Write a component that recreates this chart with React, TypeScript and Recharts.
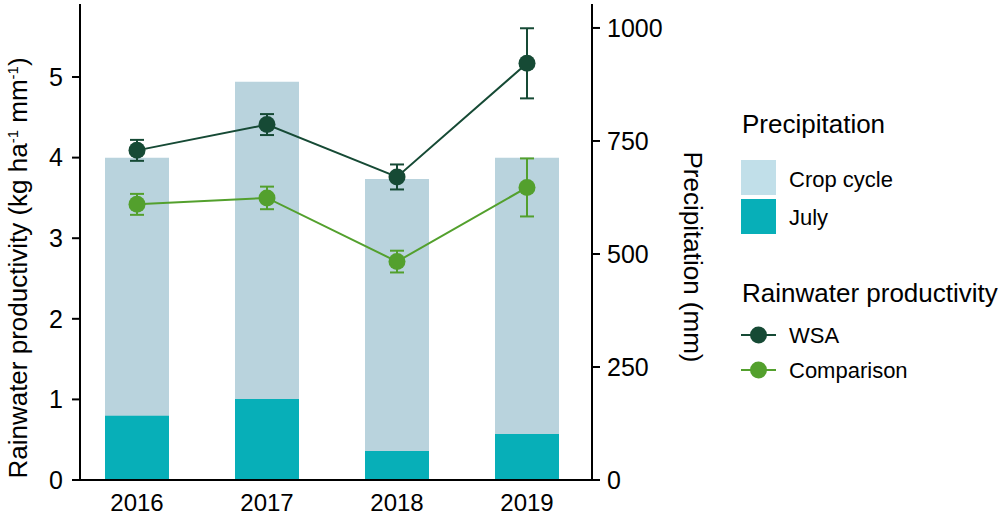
import { ComposedChart, Bar, Line, XAxis, YAxis, ErrorBar } from "recharts";

const years = ["2016", "2017", "2018", "2019"];
// precipitation (mm), right axis
const cropCycle = [713, 881, 666, 713];
const july = [142, 179, 64, 102];
// rainwater productivity (kg ha-1 mm-1), left axis
const wsa = [4.09, 4.41, 3.76, 5.17];
const wsaErr = [0.13, 0.13, 0.155, 0.435];
const comparison = [3.42, 3.5, 2.71, 3.63];
const comparisonErr = [0.13, 0.14, 0.135, 0.36];

const leftTicks = [0, 1, 2, 3, 4, 5];
const rightTicks = [0, 250, 500, 750, 1000];

const CROP = "#b9d3dd";
const CROP_KEY = "#c1dfe9";
const JULY = "#07afb8";
const WSA = "#164a35";
const COMP = "#53a02d";

const data = years.map((year, i) => ({
    year,
    cropCycle: cropCycle[i],
    july: july[i],
    wsa: wsa[i],
    wsaErr: wsaErr[i],
    comparison: comparison[i],
    comparisonErr: comparisonErr[i],
}));

function LeftLabel(props: any) {
    const vb = props.viewBox || { x: 0, y: 0, width: 0, height: 0 };
    const x = vb.x + 27;
    const y = vb.y + vb.height / 2 + 26;
    return (
        <text x={x} y={y} transform={`rotate(-90 ${x} ${y})`} textAnchor="middle" fontSize={26} fill="#000">
            <tspan>Rainwater productivity (kg ha</tspan>
            <tspan dy={-9} fontSize={15}>-1</tspan>
            <tspan dy={9}> mm</tspan>
            <tspan dy={-9} fontSize={15}>-1</tspan>
            <tspan dy={9}>)</tspan>
        </text>
    );
}

function RightLabel(props: any) {
    const vb = props.viewBox || { x: 0, y: 0, width: 0, height: 0 };
    const x = vb.x + 92;
    const y = vb.y + vb.height / 2 + 15;
    return (
        <text x={x} y={y} transform={`rotate(90 ${x} ${y})`} textAnchor="middle" fontSize={26} fill="#000">
            Precipitation (mm)
        </text>
    );
}

function ChartLegend() {
    return (
        <svg width={1000} height={517} style={{ position: "absolute", left: 0, top: 0, pointerEvents: "none" }}>
            <text x={742} y={133} fontSize={26} fill="#000">Precipitation</text>
            <rect x={741} y={160} width={35} height={35} fill={CROP_KEY} />
            <text x={789} y={187} fontSize={22} fill="#000">Crop cycle</text>
            <rect x={741} y={199} width={35} height={35} fill={JULY} />
            <text x={789} y={225} fontSize={22} fill="#000">July</text>

            <text x={742} y={302} fontSize={26} fill="#000">Rainwater productivity</text>
            <line x1={741} x2={776} y1={335} y2={335} stroke={WSA} strokeWidth={2} />
            <circle cx={758.5} cy={335} r={8.5} fill={WSA} />
            <text x={789} y={343} fontSize={22} fill="#000">WSA</text>
            <line x1={741} x2={776} y1={370} y2={370} stroke={COMP} strokeWidth={2} />
            <circle cx={758.5} cy={370} r={8.5} fill={COMP} />
            <text x={789} y={378} fontSize={22} fill="#000">Comparison</text>
        </svg>
    );
}

export default function App() {
    const axisLine = { stroke: "#000", strokeWidth: 2 };
    const tick = { fill: "#000", fontSize: 25 };
    return (
        <div
            style={{
                position: "absolute",
                left: 0,
                top: 0,
                width: 1000,
                height: 517,
                background: "#fff",
                fontFamily: "'Liberation Sans', Arial, sans-serif",
            }}
        >
            <ComposedChart
                width={1000}
                height={517}
                data={data}
                margin={{ top: 4, right: 0, bottom: 0, left: 0 }}
                barSize={64}
                barGap={-64}
            >
                <XAxis
                    dataKey="year"
                    height={37}
                    padding={{ left: -8, right: 0 }}
                    tickLine={false}
                    tickSize={0}
                    tickMargin={14}
                    axisLine={axisLine}
                    tick={{ fill: "#000", fontSize: 24 }}
                />
                <YAxis
                    yAxisId="left"
                    width={80}
                    domain={[0, 5.906]}
                    ticks={leftTicks}
                    interval={0}
                    axisLine={axisLine}
                    tickLine={{ stroke: "#000", strokeWidth: 2 }}
                    tickSize={8}
                    tickMargin={9}
                    tick={tick}
                    label={<LeftLabel />}
                />
                <YAxis
                    yAxisId="right"
                    orientation="right"
                    width={408}
                    domain={[0, 1053]}
                    ticks={rightTicks}
                    interval={0}
                    axisLine={axisLine}
                    tickLine={{ stroke: "#000", strokeWidth: 2 }}
                    tickSize={8}
                    tickMargin={7}
                    tick={tick}
                    label={<RightLabel />}
                />
                <Bar yAxisId="right" dataKey="cropCycle" name="Crop cycle" fill={CROP} isAnimationActive={false} />
                <Bar yAxisId="right" dataKey="july" name="July" fill={JULY} isAnimationActive={false} />
                <Line
                    yAxisId="left"
                    dataKey="wsa"
                    name="WSA"
                    stroke={WSA}
                    strokeWidth={2}
                    dot={{ r: 8.5, fill: WSA, stroke: "none" }}
                    activeDot={false}
                    isAnimationActive={false}
                >
                    <ErrorBar dataKey="wsaErr" direction="y" width={7} stroke={WSA} strokeWidth={2} isAnimationActive={false} />
                </Line>
                <Line
                    yAxisId="left"
                    dataKey="comparison"
                    name="Comparison"
                    stroke={COMP}
                    strokeWidth={2}
                    dot={{ r: 8.5, fill: COMP, stroke: "none" }}
                    activeDot={false}
                    isAnimationActive={false}
                >
                    <ErrorBar dataKey="comparisonErr" direction="y" width={7} stroke={COMP} strokeWidth={2} isAnimationActive={false} />
                </Line>
            </ComposedChart>
            <ChartLegend />
        </div>
    );
}
